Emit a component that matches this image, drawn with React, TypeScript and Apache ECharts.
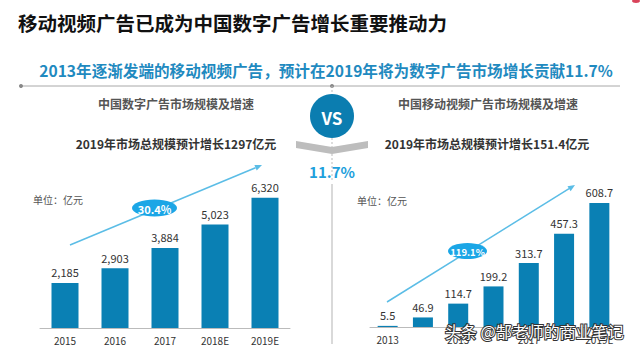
import React, { useEffect, useRef } from "react";
import * as echarts from "echarts";

const leftCategories = ["2015", "2016", "2017", "2018E", "2019E"];
const leftValues = [2185, 2903, 3884, 5023, 6320];
const rightCategories = ["2013", "2014", "2015", "2016", "2017", "2018E", "2019E"];
const rightValues = [5.5, 46.9, 114.7, 199.2, 313.7, 457.3, 608.7];

const mainTitle = "移动视频广告已成为中国数字广告增长重要推动力";
const subTitle = "2013年逐渐发端的移动视频广告，预计在2019年将为数字广告市场增长贡献11.7%";
const leftTitle = "中国数字广告市场规模及增速";
const leftSub = "2019年市场总规模预计增长1297亿元";
const rightTitle = "中国移动视频广告市场规模及增速";
const rightSub = "2019年市场总规模预计增长151.4亿元";
const unitText = "单位：亿元";
const leftCagr = "30.4%";
const rightCagr = "119.1%";
const shareText = "11.7%";
const watermark = "头条 @郜老师的商业笔记";

const FONT = "'Noto Sans CJK SC', 'Noto Sans', sans-serif";
const BAR = "#0a80b4";
const ARROW = "#5bbde6";
const PILL = "#1ba6e6";

function arrow(x1: number, y1: number, x2: number, y2: number) {
  const dx = x2 - x1;
  const dy = y2 - y1;
  const len = Math.sqrt(dx * dx + dy * dy);
  const ux = dx / len;
  const uy = dy / len;
  const hl = 7;
  const hw = 3;
  const bx = x2 - ux * hl;
  const by = y2 - uy * hl;
  return [
    {
      type: "line",
      shape: { x1, y1, x2: bx, y2: by },
      style: { stroke: ARROW, lineWidth: 1.5 },
      z: 10,
    },
    {
      type: "polygon",
      shape: {
        points: [
          [x2, y2],
          [bx - uy * hw, by + ux * hw],
          [bx + uy * hw, by - ux * hw],
        ],
      },
      style: { fill: ARROW },
      z: 10,
    },
  ];
}

function txt(text: string, x: number, y: number, size: number, fill: string, weight: any = "normal", align = "center", extra: any = {}) {
  return {
    type: "text",
    x,
    y,
    z: 20,
    style: {
      text,
      fill,
      fontSize: size,
      fontWeight: weight,
      fontFamily: FONT,
      textAlign: align,
      textVerticalAlign: "middle",
      ...extra,
    },
  };
}

export default function App() {
  const ref = useRef<HTMLDivElement>(null);
  useEffect(() => {
    if (!ref.current) return;
    const chart = echarts.init(ref.current, undefined, { renderer: "svg" });
    const axisCommon = {
      type: "category" as const,
      axisLine: { show: true, lineStyle: { color: "#bbbbbb", width: 1 } },
      axisTick: { show: false },
      axisLabel: { color: "#333", fontSize: 10, margin: 7, fontFamily: FONT },
    };
    chart.setOption({
      animation: false,
      backgroundColor: "#ffffff",
      grid: [
        { left: 40, width: 250, top: 163, height: 165 },
        { left: 370, width: 247, top: 164, height: 163 },
      ],
      xAxis: [
        { ...axisCommon, gridIndex: 0, data: leftCategories },
        { ...axisCommon, gridIndex: 1, data: rightCategories },
      ],
      yAxis: [
        { type: "value", gridIndex: 0, min: 0, max: 8000, show: false, splitLine: { show: false } },
        { type: "value", gridIndex: 1, min: 0, max: 800, show: false, splitLine: { show: false } },
      ],
      series: [
        {
          type: "bar",
          xAxisIndex: 0,
          yAxisIndex: 0,
          data: leftValues,
          barWidth: 27,
          itemStyle: { color: BAR },
          label: {
            show: true,
            position: "top",
            distance: 5,
            color: "#333",
            fontSize: 11,
            fontFamily: FONT,
            formatter: (p: any) => Number(p.value).toLocaleString("en-US"),
          },
        },
        {
          type: "bar",
          xAxisIndex: 1,
          yAxisIndex: 1,
          data: rightValues,
          barWidth: 20,
          itemStyle: { color: BAR },
          label: {
            show: true,
            position: "top",
            distance: 5,
            color: "#333",
            fontSize: 11,
            fontFamily: FONT,
            formatter: (p: any) => Number(p.value).toFixed(1),
          },
        },
      ],
      graphic: [
        { type: "ellipse", shape: { cx: 636, cy: 1, rx: 4, ry: 2 }, style: { fill: "#d9435a" } },
        txt(mainTitle, 18, 22, 19.5, "#111", "bold", "left"),
        txt(subTitle, 326, 70, 15.6, "#1f8ac0", "bold", "center"),
        { type: "line", shape: { x1: 21, y1: 86, x2: 620, y2: 86 }, style: { stroke: "#a8a8a8", lineWidth: 1 } },
        { type: "circle", shape: { cx: 21, cy: 86, r: 2 }, style: { fill: "#888" } },
        { type: "circle", shape: { cx: 332, cy: 86, r: 2 }, style: { fill: "#888" } },
        { type: "line", shape: { x1: 332, y1: 86, x2: 332, y2: 182 }, style: { stroke: "#bbb", lineWidth: 1, lineDash: [2, 2] } },
        { type: "line", shape: { x1: 332, y1: 184, x2: 332, y2: 344 }, style: { stroke: "#cccccc", lineWidth: 1.5 } },
        { type: "circle", shape: { cx: 332, cy: 116, r: 22 }, style: { fill: "#0b7db0" }, z: 5 },
        txt("VS", 332, 117, 17, "#ffffff", "bold"),
        {
          type: "polygon",
          shape: {
            points: [
              [296, 141],
              [332, 147],
              [368, 141],
              [368, 148],
              [332, 154],
              [296, 148],
            ],
          },
          style: { fill: "#bdbdbd" },
          z: 5,
        },
        txt(shareText, 332, 171, 15, "#1ea0dc", 600),
        txt(leftTitle, 176, 103, 12, "#555", "bold"),
        txt(leftSub, 176, 143, 12, "#333", "bold"),
        txt(rightTitle, 488, 103, 12, "#555", "bold"),
        txt(rightSub, 487, 143, 12, "#333", "bold"),
        txt(unitText, 33, 199, 10, "#555", "normal", "left"),
        txt(unitText, 357, 200, 10, "#555", "normal", "left"),
        ...arrow(70, 245, 262, 165),
        ...arrow(387, 302, 575, 185),
        { type: "ellipse", shape: { cx: 154.5, cy: 208, rx: 22.5, ry: 8.5 }, style: { fill: PILL }, z: 15 },
        txt(leftCagr, 154.5, 208.5, 11, "#ffffff", "bold"),
        { type: "ellipse", shape: { cx: 467.5, cy: 251, rx: 19.5, ry: 8 }, style: { fill: PILL }, z: 15 },
        txt(rightCagr, 467.5, 251.5, 9.5, "#ffffff", "bold"),
        txt(watermark, 445, 331, 16, "#ffffff", "normal", "left", {
          stroke: "#333333",
          lineWidth: 2,
        }),
      ],
    });
    return () => chart.dispose();
  }, []);
  return (
    <div
      ref={ref}
      style={{ position: "fixed", left: 0, top: 0, width: 640, height: 350, background: "#fff" }}
    />
  );
}
